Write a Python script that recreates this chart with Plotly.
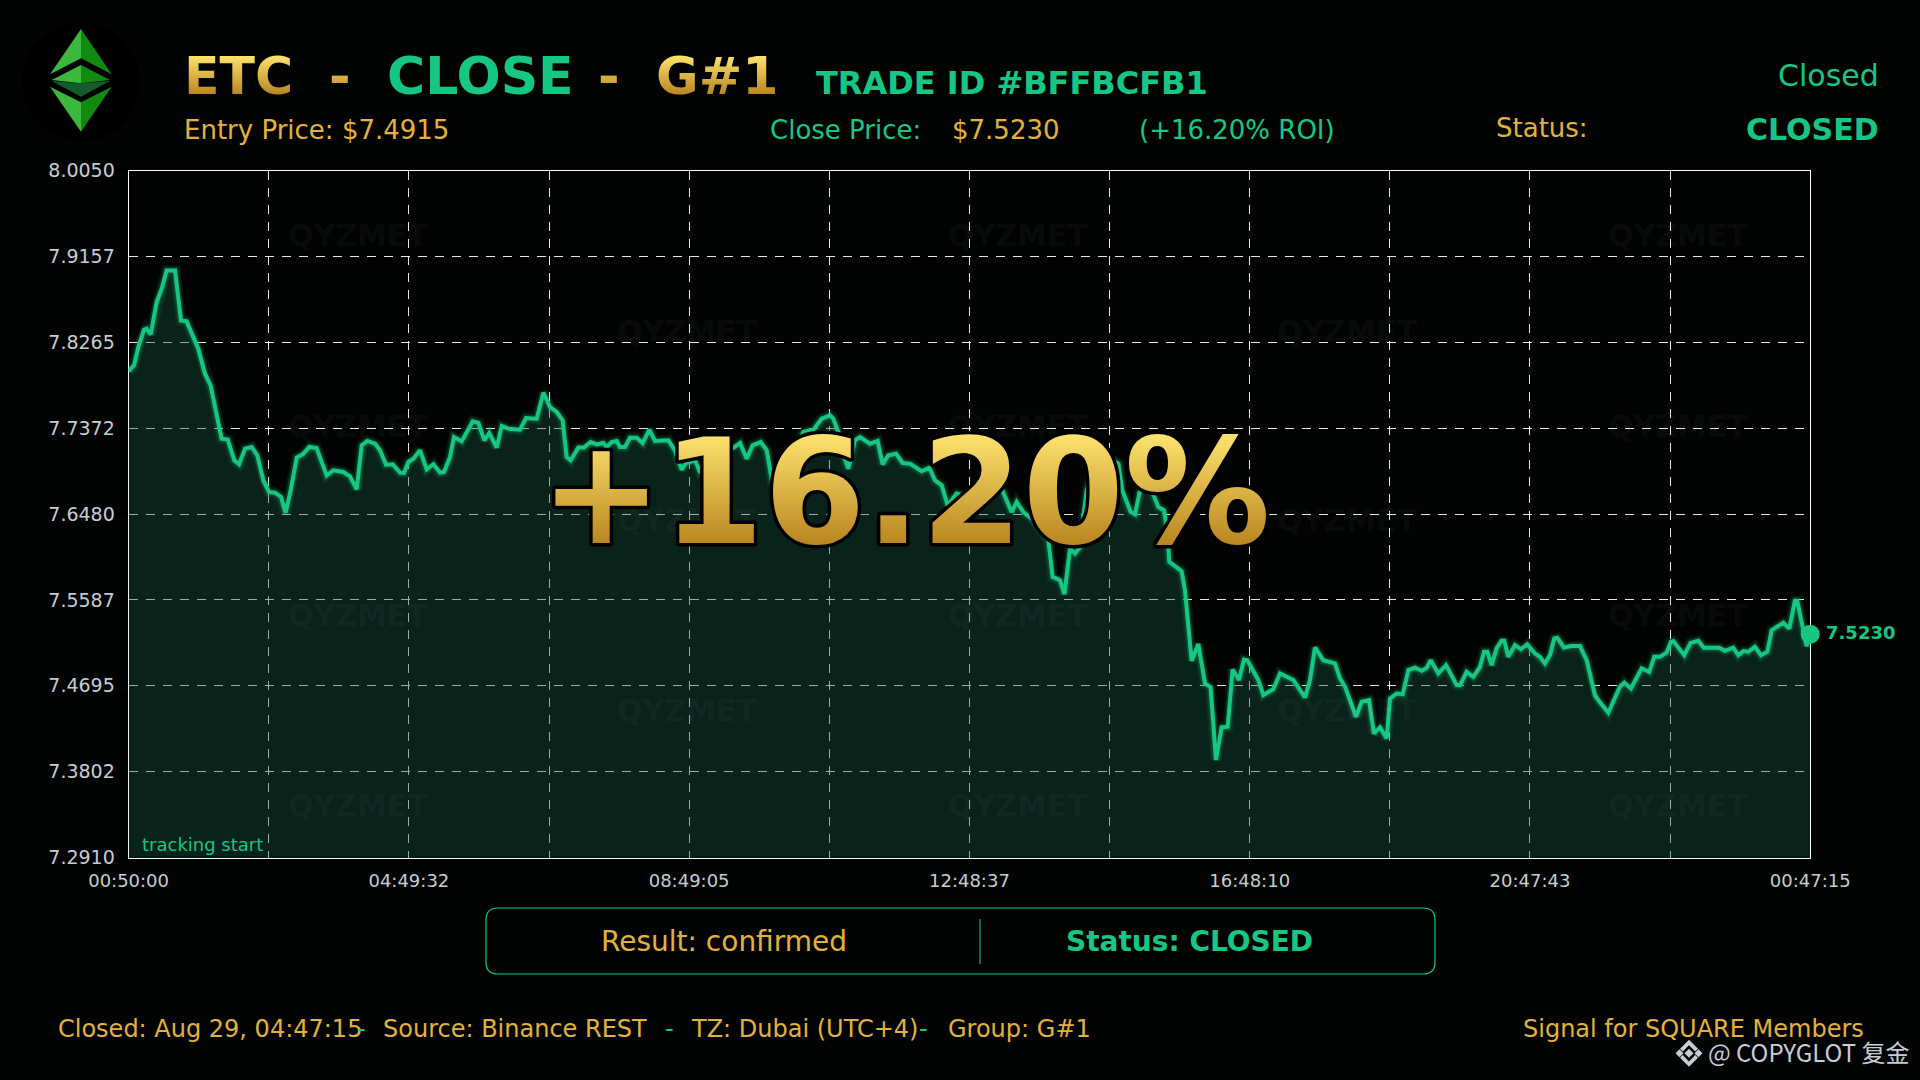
"""
ETC close card: price line with glow, header texts and result box.
Overlay positions are given in page pixels (1920x1080).
"""

import plotly.graph_objects as go

# minutes since tracking start
MINUTES = [
    0, 4.6, 8.3, 13.2, 15.4, 18.9, 24.0, 28.3, 32.5, 39.7, 44.8, 49.6, 59.6, 65.3, 70.1, 79.5,
    84.7, 90.4, 94.4, 99.5, 105.2, 110.0, 115.2, 120.0, 125.1, 130.3, 134.2, 138.5, 143.7, 148.8,
    154.5, 160.7, 169.3, 175.0, 183.5, 189.2, 195.0, 199.2, 204.0, 210.6, 214.9, 220.0, 225.7,
    232.0, 235.4, 239.1, 243.4, 249.1, 254.8, 260.5, 266.2, 269.6, 274.7, 278.1, 284.7, 294.1,
    299.0, 304.1, 308.3, 314.6, 318.9, 324.5, 334.5, 339.7, 348.8, 354.5, 360.2, 365.9, 371.0,
    374.4, 377.8, 384.4, 389.2, 394.9, 400.1, 405.8, 408.6, 412.9, 417.2, 420.0, 424.3, 428.5,
    434.2, 439.4, 445.1, 449.9, 461.3, 467.0, 472.7, 476.4, 484.1, 487.8, 499.8, 508.3, 516.9,
    522.6, 528.3, 533.4, 540.2, 545.4, 549.6, 559.6, 571.0, 576.7, 585.2, 592.4, 599.5, 602.3,
    606.6, 609.5, 615.1, 620.8, 625.1, 633.7, 640.2, 644.5, 649.3, 655.9, 661.6, 667.9, 677.8,
    684.4, 689.2, 695.0, 700.0, 707.7, 719.1, 733.4, 746.2, 754.7, 759.0, 764.7, 771.8, 786.1,
    789.8, 796.1, 799.8, 804.6, 808.9, 813.2, 816.0, 818.9, 826.0, 836.0, 846.0, 849.3, 856.5,
    860.2, 864.4, 869.0, 874.4, 880.1, 884.9, 887.8, 889.5, 900.0, 902.9, 906.6, 908.6, 914.3,
    920.0, 924.8, 929.4, 934.2, 939.4, 943.6, 949.0, 953.3, 956.2, 965.6, 969.9, 978.4, 984.1,
    995.5, 1005.5, 1009.7, 1014.0, 1021.1, 1031.1, 1035.4, 1039.7, 1049.1, 1053.9, 1060.2,
    1064.4, 1069.6, 1075.3, 1078.1, 1083.8, 1089.0, 1093.8, 1099.5, 1105.2, 1109.5, 1112.9,
    1119.4, 1126.0, 1135.1, 1138.0, 1143.6, 1149.3, 1155.0, 1158.5, 1161.3, 1165.0, 1169.2,
    1173.5, 1175.8, 1179.2, 1184.9, 1190.0, 1195.4, 1202.0, 1206.3, 1210.5, 1214.8, 1218.5,
    1221.1, 1226.8, 1233.3, 1240.5, 1246.2, 1253.3, 1256.1, 1264.7, 1274.6, 1278.4, 1284.0,
    1293.2, 1299.7, 1304.0, 1308.8, 1314.5, 1318.2, 1320.2, 1329.6, 1335.0, 1341.6, 1346.4,
    1359.5, 1364.4, 1371.5, 1375.8, 1380.1, 1384.3, 1390.0, 1395.2, 1400.6, 1404.3, 1414.3,
    1419.4, 1424.2, 1426.2, 1434.2, 1437.25,
]

PRICES = [
    7.7966, 7.8025, 7.8215, 7.8395, 7.8406, 7.8347, 7.8683, 7.8821, 7.9011, 7.9011, 7.8492,
    7.8482, 7.8198, 7.7938, 7.7817, 7.7263, 7.7253, 7.7038, 7.6997, 7.7159, 7.7177, 7.7090,
    7.6830, 7.6709, 7.6702, 7.6657, 7.6491, 7.6727, 7.7066, 7.7100, 7.7177, 7.7166, 7.6882,
    7.6934, 7.6917, 7.6872, 7.6737, 7.7194, 7.7239, 7.7211, 7.7142, 7.6993, 7.6997, 7.6910,
    7.6907, 7.7021, 7.7055, 7.7142, 7.6945, 7.6997, 7.6910, 7.6917, 7.7073, 7.7280, 7.7235,
    7.7443, 7.7426, 7.7246, 7.7322, 7.7170, 7.7395, 7.7367, 7.7357, 7.7478, 7.7471, 7.7741,
    7.7592, 7.7540, 7.7453, 7.7073, 7.7038, 7.7170, 7.7170, 7.7228, 7.7204, 7.7218, 7.7177,
    7.7228, 7.7239, 7.7177, 7.7176, 7.7273, 7.7273, 7.7218, 7.7356, 7.7239, 7.7246, 7.7142,
    7.6941, 7.7010, 7.7038, 7.6934, 7.7090, 7.7142, 7.7170, 7.7218, 7.7055, 7.7194, 7.7228,
    7.7142, 7.6848, 7.6899, 7.7176, 7.7332, 7.7356, 7.7471, 7.7505, 7.7471, 7.7332, 7.7142,
    7.6951, 7.7246, 7.7280, 7.7211, 7.7239, 7.6996, 7.7090, 7.7107, 7.7010, 7.7003, 7.6924,
    7.6962, 7.6830, 7.6778, 7.6571, 7.6692, 7.6657, 7.6709, 7.6744, 7.6501, 7.6605, 7.6501,
    7.6432, 7.6207, 7.5826, 7.5792, 7.5646, 7.6121, 7.6069, 7.6138, 7.6449, 7.6726, 7.7000,
    7.7080, 7.7004, 7.6727, 7.6502, 7.6478, 7.6727, 7.6810, 7.6727, 7.6554, 7.6519, 7.6312,
    7.5983, 7.5886, 7.5688, 7.5273, 7.4954, 7.5128, 7.4719, 7.4678, 7.3923, 7.4262, 7.4269,
    7.4864, 7.4754, 7.4968, 7.4961, 7.4754, 7.4598, 7.4660, 7.4823, 7.4754, 7.4574, 7.4754,
    7.5093, 7.4961, 7.4927, 7.4771, 7.4684, 7.4373, 7.4529, 7.4546, 7.4200, 7.4262, 7.4148,
    7.4563, 7.4615, 7.4608, 7.4858, 7.4882, 7.4851, 7.4882, 7.4961, 7.4823, 7.4909, 7.4702,
    7.4702, 7.4840, 7.4788, 7.4892, 7.5048, 7.5048, 7.4909, 7.5083, 7.5162, 7.5162, 7.4996,
    7.5117, 7.5076, 7.5124, 7.5031, 7.4996, 7.4927, 7.5013, 7.5186, 7.5193, 7.5093, 7.5107,
    7.5107, 7.4961, 7.4598, 7.4546, 7.4414, 7.4684, 7.4726, 7.4667, 7.4875, 7.4840, 7.4996,
    7.4996, 7.5038, 7.5152, 7.5159, 7.5013, 7.5141, 7.5162, 7.5090, 7.5090, 7.5058, 7.5090,
    7.5013, 7.5055, 7.5048, 7.5100, 7.5013, 7.5048, 7.5273, 7.5349, 7.5290, 7.5578, 7.5578,
    7.5107, 7.5230,
]

Y_TICKS = [8.0050, 7.9157, 7.8265, 7.7372, 7.6480, 7.5587, 7.4695, 7.3802, 7.2910]
X_GRID = [0, 119.77, 239.54, 359.31, 479.08, 598.85, 718.63, 838.4, 958.17, 1077.94, 1197.71, 1317.48, 1437.25]
X_LABELS = ["00:50:00", "", "04:49:32", "", "08:49:05", "", "12:48:37", "", "16:48:10", "", "20:47:43", "", "00:47:15"]

GREEN = "#16C784"
GOLD = "#E3B23C"
BG = "#020404"
FONT = "DejaVu Sans"

PLOT_LEFT, PLOT_RIGHT, PLOT_TOP, PLOT_BOTTOM = 128.6, 1810.2, 170.5, 857.5


def px(x):
    return x / 1920


def py(y):
    return 1 - y / 1080


annotations = []
shapes = []


def add_text(x, baseline, text, size, color, bold=False, anchor="left", font=FONT):
    annotations.append(
        dict(
            xref="paper",
            yref="paper",
            x=px(x),
            y=py(baseline - 0.35 * size),
            text=f"<b>{text}</b>" if bold else text,
            showarrow=False,
            xanchor=anchor,
            yanchor="middle",
            borderpad=0,
            font=dict(family=font, size=size, color=color),
        )
    )


def add_poly(points, color):
    path = "M " + " L ".join(f"{px(x)} {py(y)}" for x, y in points) + " Z"
    shapes.append(
        dict(type="path", xref="paper", yref="paper", path=path, fillcolor=color, line=dict(width=0))
    )


fig = go.Figure()

# fill, two glow layers, then the line itself
fig.add_trace(
    go.Scatter(
        x=MINUTES, y=PRICES, mode="lines", line=dict(width=0), fill="tozeroy",
        fillcolor="rgba(22,85,62,0.38)", hoverinfo="skip",
    )
)
fig.add_trace(go.Scatter(x=MINUTES, y=PRICES, mode="lines", line=dict(color="rgba(22,199,132,0.10)", width=11)))
fig.add_trace(go.Scatter(x=MINUTES, y=PRICES, mode="lines", line=dict(color="rgba(22,199,132,0.20)", width=7)))
fig.add_trace(go.Scatter(x=MINUTES, y=PRICES, mode="lines", line=dict(color=GREEN, width=4)))
fig.add_trace(
    go.Scatter(
        x=MINUTES[-1:], y=PRICES[-1:], mode="markers", marker=dict(color=GREEN, size=19), cliponaxis=False,
    )
)

# watermark grid
for row_y, columns in [
    (235, (357.6, 1017.6, 1677.6)),
    (331, (687, 1347)),
    (426, (357.6, 1017.6, 1677.6)),
    (520, (687, 1347)),
    (615, (357.6, 1017.6, 1677.6)),
    (710, (687, 1347)),
    (804.5, (357.6, 1017.6, 1677.6)),
]:
    for col_x in columns:
        add_text(col_x, row_y + 11, "QYZMET", 30, "rgba(255,255,255,0.05)", bold=True, anchor="center")

# header
add_text(182.6, 94, "ETC", 52, GOLD, bold=True)
add_text(339.5, 94, "-", 52, GOLD, bold=True, anchor="center")
add_text(480, 94, "CLOSE", 52, GREEN, bold=True, anchor="center")
add_text(609, 94, "-", 52, GOLD, bold=True, anchor="center")
add_text(716.5, 94, "G#1", 52, GOLD, bold=True, anchor="center")
add_text(815, 94, "TRADE ID #BFFBCFB1", 32, GREEN, bold=True)
add_text(1879.5, 86, "Closed", 30, GREEN, anchor="right")
add_text(182.6, 139, "Entry Price: $7.4915", 26, GOLD)
add_text(769, 139, "Close Price:", 26, GREEN)
add_text(950.6, 139, "$7.5230", 26, GOLD)
add_text(1138, 139, "(+16.20% ROI)", 26, GREEN)
add_text(1495, 137, "Status:", 26, GOLD)
add_text(1880, 140, "CLOSED", 30, GREEN, bold=True, anchor="right")

# chart labels
add_text(141, 851, "tracking start", 18, GREEN)
add_text(1825, 639, "7.5230", 18, GREEN, bold=True)
add_text(905, 543, "+16.20%", 146, GOLD, bold=True, anchor="center")

# result box
shapes.append(
    dict(
        type="path", xref="paper", yref="paper", line=dict(color=GREEN, width=1.2),
        path=(
            f"M {px(498)} {py(908)} L {px(1423)} {py(908)} Q {px(1435)} {py(908)} {px(1435)} {py(920)} "
            f"L {px(1435)} {py(962)} Q {px(1435)} {py(974)} {px(1423)} {py(974)} "
            f"L {px(498)} {py(974)} Q {px(486)} {py(974)} {px(486)} {py(962)} "
            f"L {px(486)} {py(920)} Q {px(486)} {py(908)} {px(498)} {py(908)} Z"
        ),
    )
)
shapes.append(
    dict(type="line", xref="paper", yref="paper", x0=px(980), x1=px(980), y0=py(919), y1=py(964),
         line=dict(color=GREEN, width=1))
)
add_text(724, 951, "Result: confirmed", 28, GOLD, anchor="center")
add_text(1189, 951, "Status: CLOSED", 28, GREEN, bold=True, anchor="center")

# footer
add_text(56.5, 1037, "Closed: Aug 29, 04:47:15", 24, GOLD)
add_text(361, 1037, "-", 24, GREEN, anchor="center")
add_text(382, 1037, "Source: Binance REST", 24, GOLD)
add_text(669, 1037, "-", 24, GREEN, anchor="center")
add_text(690, 1037, "TZ: Dubai (UTC+4)", 24, GOLD)
add_text(923, 1037, "-", 24, GREEN, anchor="center")
add_text(947, 1037, "Group: G#1", 24, GOLD)
add_text(1865, 1037, "Signal for SQUARE Members", 24, GOLD, anchor="right")
add_text(1707, 1060, "@ COPYGLOT 复金", 24, "#C8CCD4", font="Noto Sans CJK SC")

# ETC logo
shapes.append(
    dict(type="circle", xref="paper", yref="paper", x0=px(22), x1=px(140), y0=py(23), y1=py(141),
         fillcolor="#000000", line=dict(width=0), layer="below")
)
add_poly([(81, 29), (50, 74.3), (81, 58.3)], "#3CB83C")
add_poly([(81, 29), (111.7, 74.3), (81, 58.3)], "#128A12")
add_poly([(81, 65), (51.7, 80), (81, 83.3)], "#3CB83C")
add_poly([(81, 65), (110, 80), (81, 83.3)], "#128A12")
add_poly([(51.7, 81), (81, 83.3), (110, 81), (81, 96.7)], "#145C2C")
add_poly([(81, 131.7), (50, 86.7), (81, 102.3)], "#3CB83C")
add_poly([(81, 131.7), (111.7, 86.7), (81, 102.3)], "#128A12")

# binance mark next to the repost credit
MARK_X, MARK_Y = 1689, 1053.3
for dx, half in [(0, 4.5), (-9.5, 4), (9.5, 4)]:
    cx = MARK_X + dx
    add_poly([(cx, MARK_Y - half), (cx + half, MARK_Y), (cx, MARK_Y + half), (cx - half, MARK_Y)], "#C8CCD4")
for sign in (-1, 1):
    add_poly(
        [
            (MARK_X, MARK_Y + sign * 13.5),
            (MARK_X + 9, MARK_Y + sign * 4.5),
            (MARK_X + 6.3, MARK_Y + sign * 1.8),
            (MARK_X, MARK_Y + sign * 8.1),
            (MARK_X - 6.3, MARK_Y + sign * 1.8),
            (MARK_X - 9, MARK_Y + sign * 4.5),
        ],
        "#C8CCD4",
    )

fig.update_layout(
    width=1920,
    height=1080,
    margin=dict(l=0, r=0, t=0, b=0, autoexpand=False),
    paper_bgcolor=BG,
    plot_bgcolor=BG,
    showlegend=False,
    annotations=annotations,
    shapes=shapes,
    font=dict(family=FONT),
)
fig.update_xaxes(
    domain=[px(PLOT_LEFT), px(PLOT_RIGHT)],
    range=[0, 1437.25],
    tickvals=X_GRID,
    ticktext=X_LABELS,
    tickfont=dict(size=18, color="#C8CCD0"),
    ticklabelstandoff=7,
    ticks="",
    showgrid=True,
    gridcolor="rgba(255,255,255,0.9)",
    griddash="9px,8px",
    gridwidth=1,
    showline=True,
    linecolor="#FFFFFF",
    linewidth=1,
    mirror=True,
    zeroline=False,
    layer="below traces",
)
fig.update_yaxes(
    domain=[py(PLOT_BOTTOM), py(PLOT_TOP)],
    range=[7.2910, 8.0050],
    tickvals=Y_TICKS,
    ticktext=[f"{v:.4f}" for v in Y_TICKS],
    tickfont=dict(size=19, color="#C8CCD0"),
    ticklabelstandoff=9,
    ticks="",
    showgrid=True,
    gridcolor="rgba(255,255,255,0.9)",
    griddash="9px,8px",
    gridwidth=1,
    showline=True,
    linecolor="#FFFFFF",
    linewidth=1,
    mirror=True,
    zeroline=False,
    layer="below traces",
)

# gold gradient and black outline on the large texts, plotly fonts can't do either
POST_SCRIPT = """
document.body.style.margin = '0';
document.body.style.background = '#020404';
var svg = document.querySelector('.main-svg');
var ns = 'http://www.w3.org/2000/svg';
var grad = document.createElementNS(ns, 'linearGradient');
grad.setAttribute('id', 'goldfill');
grad.setAttribute('x1', '0'); grad.setAttribute('x2', '0');
grad.setAttribute('y1', '0.18'); grad.setAttribute('y2', '0.82');
[['0', '#FBE06C'], ['1', '#B8841E']].forEach(function (s) {
    var stop = document.createElementNS(ns, 'stop');
    stop.setAttribute('offset', s[0]);
    stop.setAttribute('stop-color', s[1]);
    grad.appendChild(stop);
});
svg.querySelector('defs').appendChild(grad);
document.querySelectorAll('text.annotation-text').forEach(function (t) {
    var size = parseFloat(t.style.fontSize);
    var txt = t.textContent;
    if (size >= 50 && (txt === 'ETC' || txt === '-' || txt === 'G#1' || txt === '+16.20%')) {
        t.style.setProperty('fill', 'url(#goldfill)');
    }
    if (txt === '+16.20%') {
        t.style.setProperty('stroke', '#000000');
        t.style.setProperty('stroke-width', '7px');
        t.style.setProperty('paint-order', 'stroke');
        t.style.setProperty('stroke-linejoin', 'round');
    }
});
"""

fig.write_html("out.html", post_script=POST_SCRIPT, config={"displayModeBar": False})
